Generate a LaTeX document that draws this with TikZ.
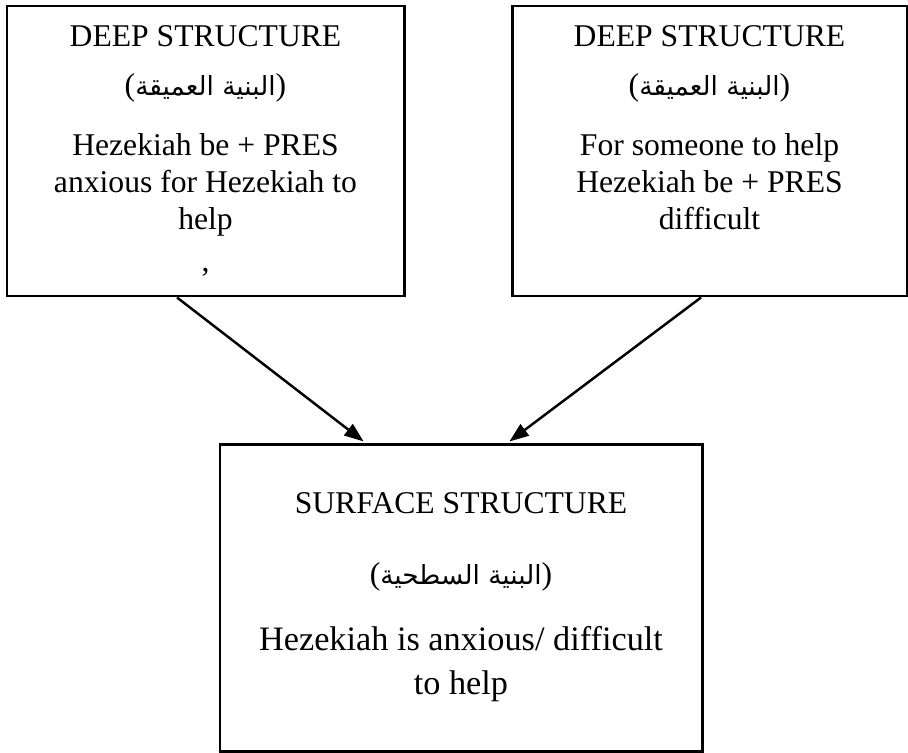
\documentclass[tikz,border=0pt]{standalone}
\usepackage{fontspec}
\setmainfont{Liberation Serif}
\newfontfamily\arabicfont[Script=Arabic]{DejaVu Sans}
\TeXXeTstate=1
\usetikzlibrary{arrows.meta,positioning}

\newcommand{\artag}[1]{({\fontsize{15}{18}\selectfont\arabicfont\beginR #1\endR})}

\begin{document}
\begin{tikzpicture}[
  font=\fontsize{18}{21}\selectfont,
  box/.style={draw=black, line width=1.7pt, align=center, inner sep=0pt},
  arr/.style={-{Triangle[length=11pt,width=8pt]}, draw=black, line width=1.4pt, shorten >=1pt}
]
\useasboundingbox (0,0) rectangle (18.16,-15.04);
\node[box, minimum width=7.94cm, minimum height=5.8cm] (deepl) at (4.11,-3.02)
  {DEEP STRUCTURE\\[7pt] \artag{البنية العميقة}\\[13pt]
   Hezekiah be + PRES\\ anxious for Hezekiah to\\ help\\[3pt] ,};
\node[box, minimum width=7.9cm, minimum height=5.8cm] (deepr) at (14.19,-3.02)
  {DEEP STRUCTURE\\[7pt] \artag{البنية العميقة}\\[13pt]
   For someone to help\\ Hezekiah be + PRES\\ difficult\\[3pt] \phantom{,}};
\node[box, minimum width=9.64cm, minimum height=6.14cm] (surf) at (9.22,-11.95)
  {SURFACE STRUCTURE\\[19pt] \artag{البنية السطحية}\\[17pt]
   {\fontsize{19.5}{23}\selectfont Hezekiah is anxious/ difficult}\\[4pt]
   {\fontsize{19.5}{23}\selectfont to help}};

\draw[arr] ([xshift=-0.57cm]deepl.south) -- ([xshift=-1.92cm]surf.north);
\draw[arr] ([xshift=-0.17cm]deepr.south) -- ([xshift=0.94cm]surf.north);
\end{tikzpicture}
\end{document}
